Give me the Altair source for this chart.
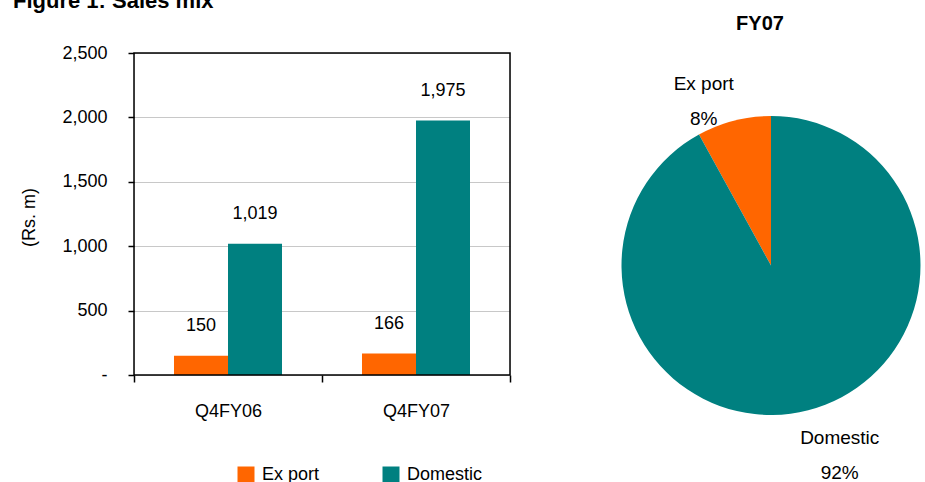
import altair as alt
import pandas as pd

# ---- data ----
quarters = ["Q4FY06", "Q4FY07"]
export_sales = [150, 166]
domestic_sales = [1019, 1975]
series = ["Ex port", "Domestic"]
fy07_share = [8, 92]
y_ticks = [0, 500, 1000, 1500, 2000, 2500]
fig_title = ["Figure 1: Sales mix"]
pie_title = ["FY07"]
y_title = "(Rs. m)"

bar_df = pd.DataFrame({
    "quarter": quarters * 2,
    "series": [series[0]] * 2 + [series[1]] * 2,
    "value": export_sales + domestic_sales,
})
pie_df = pd.DataFrame({"series": series, "share": fy07_share})

FONT = "Liberation Sans, Arial, sans-serif"
COLORS = ["#FF6600", "#008080"]
FS = 18

color = alt.Color(
    "series:N",
    scale=alt.Scale(domain=series, range=COLORS),
    legend=alt.Legend(
        orient="none", legendX=103, legendY=413, direction="horizontal",
        title=None, symbolType="square", symbolSize=289, symbolStrokeWidth=0,
        symbolOpacity=1, labelFont=FONT, labelFontSize=FS, labelColor="black",
        columnPadding=62, padding=0, labelOffset=7,
    ),
)

x = alt.X(
    "quarter:N", sort=quarters,
    scale=alt.Scale(paddingInner=0, paddingOuter=0),
    axis=alt.Axis(
        title=None, labelAngle=0, domain=False, tickBand="extent", tickSize=7,
        tickColor="black", tickWidth=1.5, labelFont=FONT, labelFontSize=FS,
        labelColor="black", labelPadding=20, grid=False,
    ),
)
xoff = alt.XOffset("series:N", sort=series,
                   scale=alt.Scale(paddingInner=0, paddingOuter=0.7407))
y = alt.Y(
    "value:Q", scale=alt.Scale(domain=[0, 2500]),
    axis=alt.Axis(
        values=y_ticks,
        labelExpr="datum.value == 0 ? '-' : format(datum.value, ',')",
        domain=False, tickSize=6, tickColor="black", tickWidth=1.5,
        labelFont=FONT, labelFontSize=FS, labelColor="black", labelPadding=21,
        grid=True, gridColor="#C8C8C8", gridWidth=1,
        title=y_title, titleFont=FONT, titleFontSize=FS, titleFontWeight="normal",
        titleColor="black", titleAngle=-90, titleX=-105, titleY=164,
        titleAlign="center", titleBaseline="middle",
    ),
)

bars = alt.Chart(bar_df).mark_bar().encode(x=x, xOffset=xoff, y=y, color=color)
bar_labels = alt.Chart(bar_df).mark_text(
    font=FONT, fontSize=FS, color="black", baseline="alphabetic", dy=-25
).encode(x=x, xOffset=xoff, y=y, text=alt.Text("value:Q", format=","))

frame = alt.Chart(pd.DataFrame({"f": [0]})).mark_rect(
    filled=False, fill=None, stroke="black", strokeWidth=1.5
).encode(x=alt.value(0), x2=alt.value(376), y=alt.value(0), y2=alt.value(322))

theta_scale = alt.Scale(domain=[0, 100])
arc = alt.Chart(pie_df).mark_arc(outerRadius=149.5).encode(
    theta=alt.Theta("share:Q", stack=True, scale=theta_scale),
    color=color,
    order=alt.Order("series:N", sort="ascending"),
    x=alt.value(637), y=alt.value(212.5),
)

lbl_base = alt.Chart(pie_df).transform_window(
    cum="sum(share)", sort=[alt.SortField("series", order="ascending")], frame=[None, 0]
).transform_calculate(
    mid="datum.cum - datum.share / 2",
    label="datum.series + '|' + datum.share + '%'",
)
lbl_enc = dict(
    theta=alt.Theta("mid:Q", stack=None, scale=theta_scale),
    text=alt.Text("label:N"),
    x=alt.value(637), y=alt.value(212.5),
)
exp_lbl = lbl_base.transform_filter(alt.datum.series == series[0]).mark_text(
    radius=170, dx=-25, dy=-17, font=FONT, fontSize=19, color="black", lineBreak="|",
    lineHeight=35, align="center", baseline="middle",
).encode(**lbl_enc)
dom_lbl = lbl_base.transform_filter(alt.datum.series == series[1]).mark_text(
    radius=196, dx=20, dy=-17, font=FONT, fontSize=19, color="black", lineBreak="|",
    lineHeight=35, align="center", baseline="middle",
).encode(**lbl_enc)

title1 = alt.Chart(pd.DataFrame({"t": fig_title})).mark_text(
    font=FONT, fontSize=22, fontWeight="bold", color="black", align="left",
    baseline="alphabetic",
).encode(text="t:N", x=alt.value(-121), y=alt.value(-45))
title2 = alt.Chart(pd.DataFrame({"t": pie_title})).mark_text(
    font=FONT, fontSize=20, fontWeight="bold", color="black", align="center",
    baseline="alphabetic",
).encode(text="t:N", x=alt.value(626), y=alt.value(-23))

chart = alt.layer(bars, bar_labels, frame, arc, exp_lbl, dom_lbl, title1, title2).properties(
    width=376, height=322, autosize="none",
    padding={"left": 134, "top": 53, "right": 415, "bottom": 107},
).configure_view(stroke=None).configure(background="white")

chart.save("out.html", embed_options={"renderer": "svg", "actions": False})
